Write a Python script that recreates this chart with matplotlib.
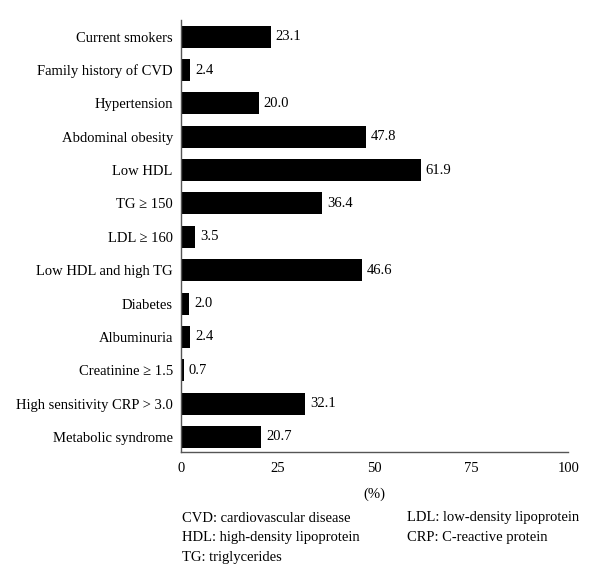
import matplotlib
matplotlib.use("Agg")
import matplotlib.pyplot as plt
import numpy as np

plt.rcParams['font.family'] = ['Liberation Serif', 'DejaVu Serif']

categories = [
    "Current smokers", "Family history of CVD", "Hypertension",
    "Abdominal obesity", "Low HDL", "TG \u2265 150", "LDL \u2265 160",
    "Low HDL and high TG", "Diabetes", "Albuminuria",
    "Creatinine \u2265 1.5", "High sensitivity CRP > 3.0", "Metabolic syndrome",
]
values = [23.1, 2.4, 20.0, 47.8, 61.9, 36.4, 3.5, 46.6, 2.0, 2.4, 0.7, 32.1, 20.7]
xticks = [0, 25, 50, 75, 100]
notes_left = ["CVD: cardiovascular disease", "HDL: high-density lipoprotein", "TG: triglycerides"]
notes_right = ["LDL: low-density lipoprotein", "CRP: C-reactive protein"]

fig = plt.figure(figsize=(6, 5.87), dpi=100)
ax = fig.add_axes([0.302, 0.230, 0.645, 0.736])

y = np.arange(len(categories))
ax.barh(y, values, height=0.66, color="black")
for yi, v in zip(y, values):
    ax.text(v + 1.3, yi, f"{v:.1f}", va="center", ha="left", fontsize=10.5)

ax.set_ylim(len(categories) - 0.55, -0.5)
ax.set_xlim(0, 100)
ax.set_yticks(y)
ax.set_yticklabels(categories, fontsize=10.5)
ax.set_xticks(xticks)
ax.set_xticklabels([str(t) for t in xticks], fontsize=10.5)
ax.tick_params(length=0)
ax.tick_params(axis="y", pad=6)
ax.tick_params(axis="x", pad=7)
for s in ["top", "right"]:
    ax.spines[s].set_visible(False)
for s in ["left", "bottom"]:
    ax.spines[s].set_color("#555555")
    ax.spines[s].set_linewidth(1.0)
ax.set_xlabel("(%)", fontsize=10.5, labelpad=9)

for i, t in enumerate(notes_left):
    fig.text(182 / 600, 1 - (518 + 19.5 * i) / 587, t, fontsize=10.5, va="center", ha="left")
for i, t in enumerate(notes_right):
    fig.text(407 / 600, 1 - (518 + 19.5 * i) / 587, t, fontsize=10.5, va="center", ha="left")

fig.savefig("out.png", dpi=100)
